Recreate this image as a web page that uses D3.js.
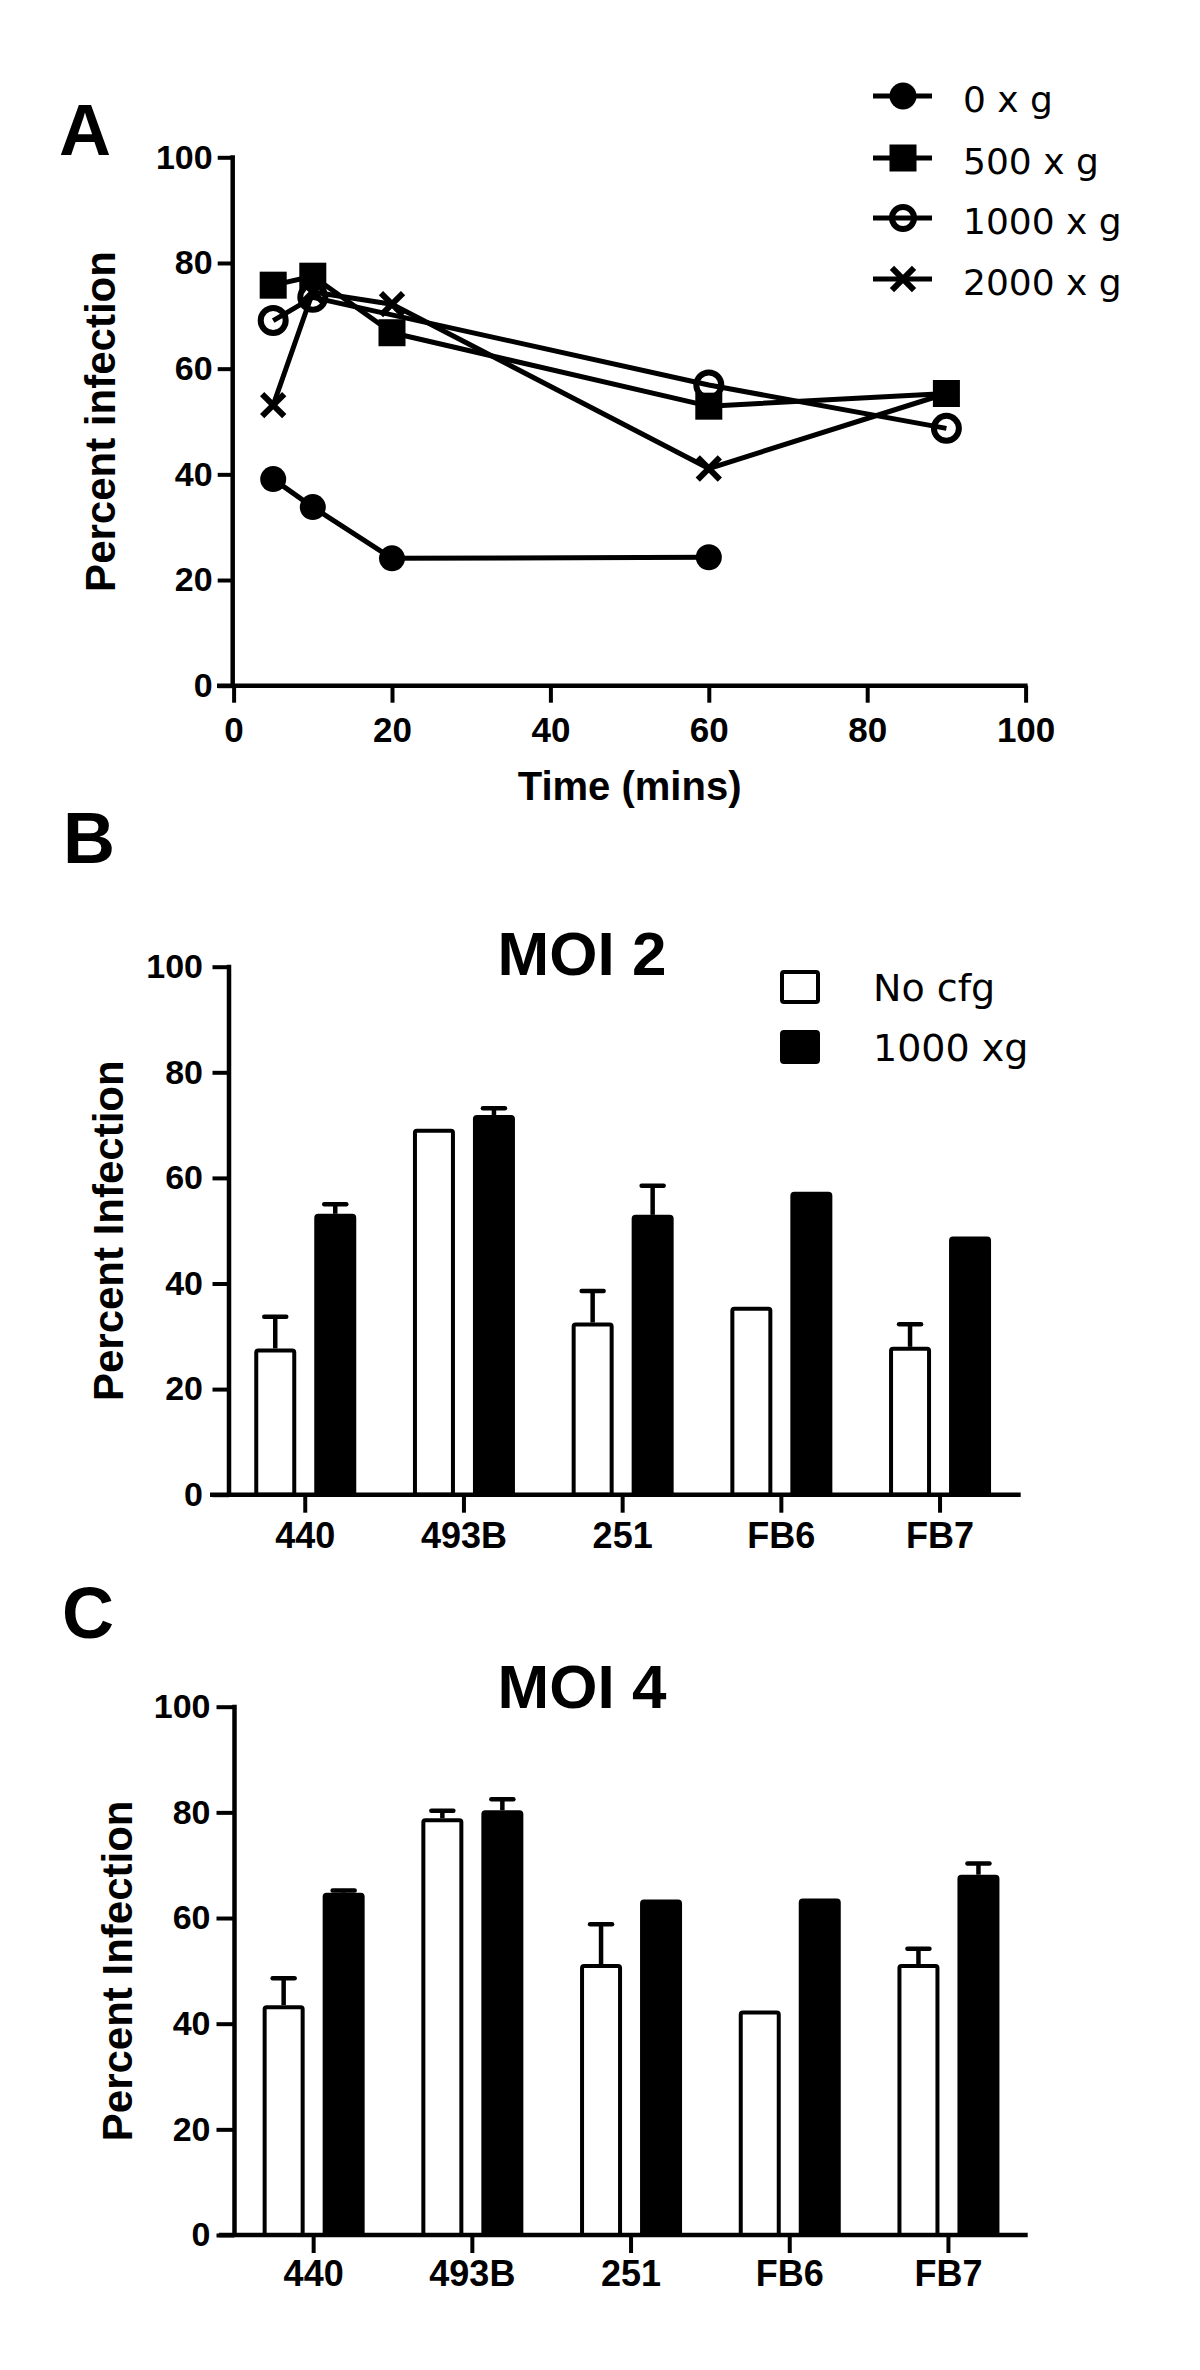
<!DOCTYPE html>
<html><head><meta charset="utf-8">
<script src="https://cdn.jsdelivr.net/npm/d3@7"></script>
<style>
body{margin:0;background:#fff}
svg text{font-family:"Liberation Sans",Arial,sans-serif;fill:#000}
</style>
</head><body>
<svg id="chart" width="1200" height="2370"></svg>
<script>
// ---------- DATA ----------
const times = [5, 10, 20, 60, 90];
const seriesNames = ["0 x g", "500 x g", "1000 x g", "2000 x g"];
const g0    = [39.1, 33.8, 24.1, 24.3, null];
const g500  = [75.8, 77.5, 66.8, 52.9, 55.3];
const g1000 = [69.1, 73.5, null, 56.9, 48.7];
const g2000 = [53.1, 74.5, 72.2, 41.1, 55.3];
const xTicksA = [0, 20, 40, 60, 80, 100];
const yTicks = [0, 20, 40, 60, 80, 100];

const cellLines = ["440", "493B", "251", "FB6", "FB7"];
const barGroups = ["No cfg", "1000 xg"];
const moi2NoCfg    = [27.7, 69.3, 32.6, 35.6, 28.0];
const moi2NoCfgErr = [6.0, 0, 6.0, 0, 4.3];
const moi2Cfg      = [53.2, 71.9, 53.0, 57.4, 48.9];
const moi2CfgErr   = [1.8, 1.3, 5.5, 0, 0];
const moi4NoCfg    = [43.5, 78.9, 51.3, 42.5, 51.3];
const moi4NoCfgErr = [5.1, 1.4, 7.5, 0, 2.9];
const moi4Cfg      = [64.8, 80.4, 63.5, 63.7, 68.2];
const moi4CfgErr   = [0.4, 2.1, 0, 0, 2.1];

// ---------- HELPERS ----------
const svg = d3.select("#chart");
svg.append("rect").attr("width", 1200).attr("height", 2370).attr("fill", "#fff");
const AXW = 4.5, TKW = 4;

function styleAxis(g, size) {
  g.select(".domain").remove();
  g.selectAll(".tick line").attr("stroke", "#000").attr("stroke-width", TKW);
  g.selectAll(".tick text").attr("font-size", size).attr("font-weight", "bold")
    .attr("font-family", "'Liberation Sans',Arial,sans-serif").attr("fill", "#000");
}

function yAxis(y, axisX, tick, pad) {
  const g = svg.append("g").attr("transform", `translate(${axisX},0)`)
    .call(d3.axisLeft(y).tickValues(yTicks).tickSize(tick).tickPadding(pad).tickSizeOuter(0));
  styleAxis(g, 34);
  svg.append("line").attr("x1", axisX).attr("x2", axisX)
    .attr("y1", y(100) - 2).attr("y2", y(0))
    .attr("stroke", "#000").attr("stroke-width", AXW);
}

function markerPath(sel, type, r) {
  if (type === 0) {
    sel.append("circle").attr("r", r).attr("fill", "#000");
  } else if (type === 1) {
    sel.append("rect").attr("x", -r).attr("y", -r).attr("width", 2 * r).attr("height", 2 * r).attr("fill", "#000");
  } else if (type === 2) {
    sel.append("circle").attr("r", r - 3).attr("fill", "none").attr("stroke", "#000").attr("stroke-width", 6);
  } else {
    const a = r * 0.85;
    sel.append("path").attr("d", `M${-a},${-a}L${a},${a}M${-a},${a}L${a},${-a}`)
      .attr("stroke", "#000").attr("stroke-width", 6).attr("fill", "none");
  }
}

// ---------- PANEL A ----------
(function () {
  const x = d3.scaleLinear().domain([0, 100]).range([233.6, 1025.6]);
  const y = d3.scaleLinear().domain([0, 100]).range([685.7, 157.3]);

  svg.append("text").attr("x", 59).attr("y", 155).attr("font-size", 72).attr("font-weight", "bold").text("A");

  yAxis(y, 232.7, 15, 5);
  const gx = svg.append("g").attr("transform", `translate(0,${y(0)})`)
    .call(d3.axisBottom(x).tickValues(xTicksA).tickSize(17).tickSizeOuter(0));
  styleAxis(gx, 35);
  gx.selectAll(".tick text").attr("y", 56).attr("dy", null);
  svg.append("line").attr("x1", 217).attr("x2", x(100) + 2).attr("y1", y(0)).attr("y2", y(0))
    .attr("stroke", "#000").attr("stroke-width", AXW);

  svg.append("text").attr("x", (x(0) + x(100)) / 2).attr("y", 800).attr("text-anchor", "middle")
    .attr("font-size", 40).attr("font-weight", "bold").text("Time (mins)");
  svg.append("text").attr("transform", `translate(115,${(y(0) + y(100)) / 2}) rotate(-90)`)
    .attr("text-anchor", "middle").attr("font-size", 42).attr("font-weight", "bold").text("Percent infection");

  const all = [g0, g500, g1000, g2000];
  const line = d3.line().x(d => x(d[0])).y(d => y(d[1]));
  const pts = all.map(s => times.map((t, i) => [t, s[i]]).filter(d => d[1] != null));
  pts.forEach(p => {
    svg.append("path").attr("d", line(p)).attr("fill", "none").attr("stroke", "#000")
      .attr("stroke-width", 5).attr("stroke-linejoin", "round");
  });
  const rs = [13, 13.5, 15.5, 13];
  pts.forEach((p, k) => {
    p.forEach(d => {
      const g = svg.append("g").attr("transform", `translate(${x(d[0])},${y(d[1])})`);
      markerPath(g, k, rs[k]);
    });
  });

  // legend
  const rows = [96, 158, 218, 279];
  const lrs = [13.5, 13.5, 14, 13];
  seriesNames.forEach((n, k) => {
    svg.append("line").attr("x1", 873).attr("x2", 932).attr("y1", rows[k]).attr("y2", rows[k])
      .attr("stroke", "#000").attr("stroke-width", 5);
    const g = svg.append("g").attr("transform", `translate(903,${rows[k]})`);
    markerPath(g, k, lrs[k]);
    svg.append("text").attr("x", 963).attr("y", rows[k] + 16).attr("font-size", 36)
      .style("font-family", "'DejaVu Sans',sans-serif").text(n);
  });
})();

// ---------- BAR PANELS ----------
function barPanel(opt) {
  const y = d3.scaleLinear().domain([0, 100]).range([opt.y0, opt.y100]);
  const x = d3.scaleBand().domain(cellLines).range(opt.band);
  const sub = d3.scaleBand().domain(barGroups).range([-51, 51]).paddingInner(0.3);

  svg.append("text").attr("x", opt.letterX).attr("y", opt.letterY).attr("font-size", 72)
    .attr("font-weight", "bold").text(opt.letter);
  svg.append("text").attr("x", 582).attr("y", opt.titleY).attr("text-anchor", "middle")
    .attr("font-size", 62).attr("font-weight", "bold").text(opt.title);
  svg.append("text").attr("transform", `translate(${opt.labelX},${(opt.y0 + opt.y100) / 2}) rotate(-90)`)
    .attr("text-anchor", "middle").attr("font-size", 42).attr("font-weight", "bold").text("Percent Infection");

  const series = [
    {vals: opt.noCfg, err: opt.noCfgErr, fill: "#fff", key: barGroups[0]},
    {vals: opt.cfg, err: opt.cfgErr, fill: "#000", key: barGroups[1]}
  ];
  series.forEach(s => {
    cellLines.forEach((c, i) => {
      const cx = x(c) + x.bandwidth() / 2 + sub(s.key) + sub.bandwidth() / 2;
      const w = sub.bandwidth();
      const v = s.vals[i], e = s.err[i];
      if (e > 0) {
        svg.append("line").attr("x1", cx).attr("x2", cx).attr("y1", y(v)).attr("y2", y(v + e))
          .attr("stroke", "#000").attr("stroke-width", 4.5);
        svg.append("line").attr("x1", cx - 11).attr("x2", cx + 11).attr("y1", y(v + e)).attr("y2", y(v + e))
          .attr("stroke", "#000").attr("stroke-width", 4.5).attr("stroke-linecap", "round");
      }
      svg.append("rect").attr("x", cx - w / 2 + 2).attr("width", w - 4)
        .attr("y", y(v) + 2).attr("height", y(0) - y(v) - 2)
        .attr("rx", 2).attr("fill", s.fill).attr("stroke", "#000").attr("stroke-width", 4);
    });
  });

  yAxis(y, opt.axisX, opt.tick, opt.pad);
  const gx = svg.append("g").attr("transform", `translate(0,${opt.y0})`)
    .call(d3.axisBottom(x).tickSize(18).tickSizeOuter(0));
  styleAxis(gx, 36);
  gx.selectAll(".tick text").attr("y", opt.xLabY).attr("dy", null);
  svg.append("line").attr("x1", opt.xStart).attr("x2", opt.xEnd).attr("y1", opt.y0).attr("y2", opt.y0)
    .attr("stroke", "#000").attr("stroke-width", AXW);

  if (opt.legend) {
    const ly = [970, 1030];
    series.forEach((s, k) => {
      svg.append("rect").attr("x", 782).attr("y", ly[k] + 2).attr("width", 36).attr("height", 30)
        .attr("rx", 2).attr("fill", s.fill).attr("stroke", "#000").attr("stroke-width", 4);
      svg.append("text").attr("x", 873).attr("y", ly[k] + 31).attr("font-size", 38)
        .style("font-family", "'DejaVu Sans',sans-serif").text(s.key);
    });
  }
}

barPanel({
  letter: "B", letterX: 63, letterY: 863, title: "MOI 2", titleY: 975,
  y0: 1494.7, y100: 966.7, band: [225.9, 1019.4], axisX: 229, tick: 16.5, pad: 9.5,
  labelX: 123, xStart: 210, xEnd: 1020.7, xLabY: 53,
  noCfg: moi2NoCfg, noCfgErr: moi2NoCfgErr, cfg: moi2Cfg, cfgErr: moi2CfgErr, legend: true
});
barPanel({
  letter: "C", letterX: 62, letterY: 1638, title: "MOI 4", titleY: 1708,
  y0: 2235, y100: 1706.7, band: [234.3, 1027.8], axisX: 234.5, tick: 18, pad: 6,
  labelX: 132, xStart: 219, xEnd: 1027.7, xLabY: 51,
  noCfg: moi4NoCfg, noCfgErr: moi4NoCfgErr, cfg: moi4Cfg, cfgErr: moi4CfgErr, legend: false
});
</script>
</body></html>
